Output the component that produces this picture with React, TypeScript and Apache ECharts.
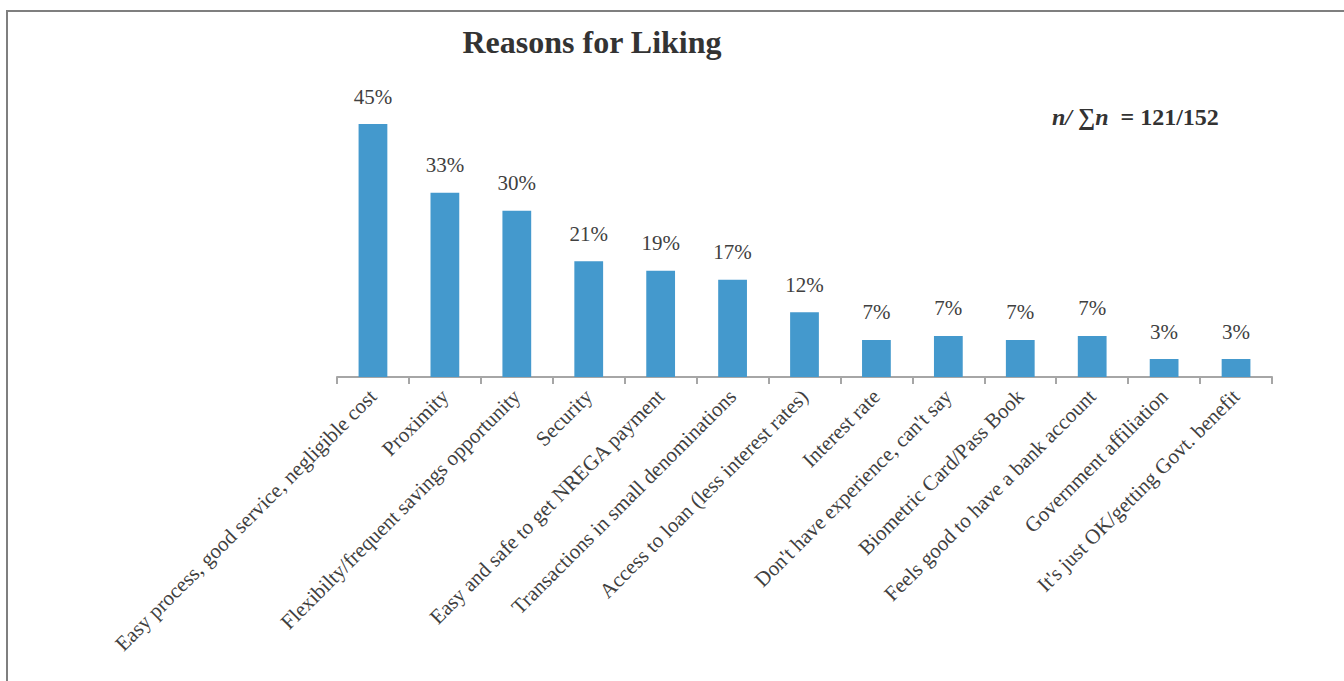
import React, { useEffect, useRef } from "react";
import * as echarts from "echarts";

const categories = [
  "Easy process, good service, negligible cost",
  "Proximity",
  "Flexibilty/frequent savings opportunity",
  "Security",
  "Easy and safe to get NREGA payment",
  "Transactions in small denominations",
  "Access to loan (less interest rates)",
  "Interest rate",
  "Don't have experience, can't say",
  "Biometric Card/Pass Book",
  "Feels good to have a bank account",
  "Government affiliation",
  "It's just OK/getting Govt. benefit",
];

const values = [45.0, 32.8, 29.6, 20.6, 18.9, 17.3, 11.5, 6.6, 7.3, 6.6, 7.3, 3.2, 3.2];

const titleText = "Reasons for Liking";
const sampleText = "121/152";

const SERIF = "Liberation Serif";

export default function App() {
  const ref = useRef<HTMLDivElement>(null);
  useEffect(() => {
    if (!ref.current) return;
    const chart = echarts.init(ref.current, undefined, { renderer: "svg" });
    chart.setOption({
      animation: false,
      backgroundColor: "#ffffff",
      textStyle: { fontFamily: SERIF },
      grid: { left: 337, right: 72, top: 96, bottom: 304, containLabel: false },
      xAxis: {
        type: "category",
        data: categories,
        boundaryGap: true,
        axisLine: { show: true, lineStyle: { color: "#a6a6a6", width: 2 } },
        axisTick: { show: true, length: 7, alignWithLabel: false, lineStyle: { color: "#a6a6a6", width: 2 } },
        axisLabel: {
          interval: 0,
          rotate: 45,
          margin: 16,
          fontFamily: SERIF,
          fontSize: 21,
          color: "#404040",
        },
      },
      yAxis: {
        type: "value",
        min: 0,
        max: 50,
        show: false,
        splitLine: { show: false },
      },
      series: [
        {
          type: "bar",
          data: values,
          barWidth: "40%",
          itemStyle: { color: "#4499cd" },
          label: {
            show: true,
            position: "top",
            distance: 17,
            formatter: (p: any) => Math.round(p.value) + "%",
            fontFamily: SERIF,
            fontSize: 21,
            color: "#404040",
          },
        },
      ],
      graphic: [
        {
          type: "rect",
          shape: { x: 7, y: 11, width: 1400, height: 800 },
          style: { fill: "none", stroke: "#7f7f7f", lineWidth: 2 },
          silent: true,
        },
        {
          type: "text",
          x: 592,
          y: 42,
          style: {
            text: titleText,
            fontFamily: SERIF,
            fontSize: 32,
            fontWeight: "bold",
            fill: "#333333",
            textAlign: "center",
            textVerticalAlign: "middle",
          },
        },
        {
          type: "text",
          x: 1052,
          y: 117,
          style: {
            text: "{i|n/ ∑n}{b|  = " + sampleText + "}",
            textVerticalAlign: "middle",
            rich: {
              i: { fontFamily: SERIF, fontSize: 24, fontWeight: "bold", fontStyle: "italic", fill: "#333333" },
              b: { fontFamily: SERIF, fontSize: 24, fontWeight: "bold", fill: "#333333" },
            },
          },
        },
      ],
    });
    return () => chart.dispose();
  }, []);
  return (
    <div
      ref={ref}
      style={{ position: "absolute", left: 0, top: 0, width: 1344, height: 681 }}
    />
  );
}
